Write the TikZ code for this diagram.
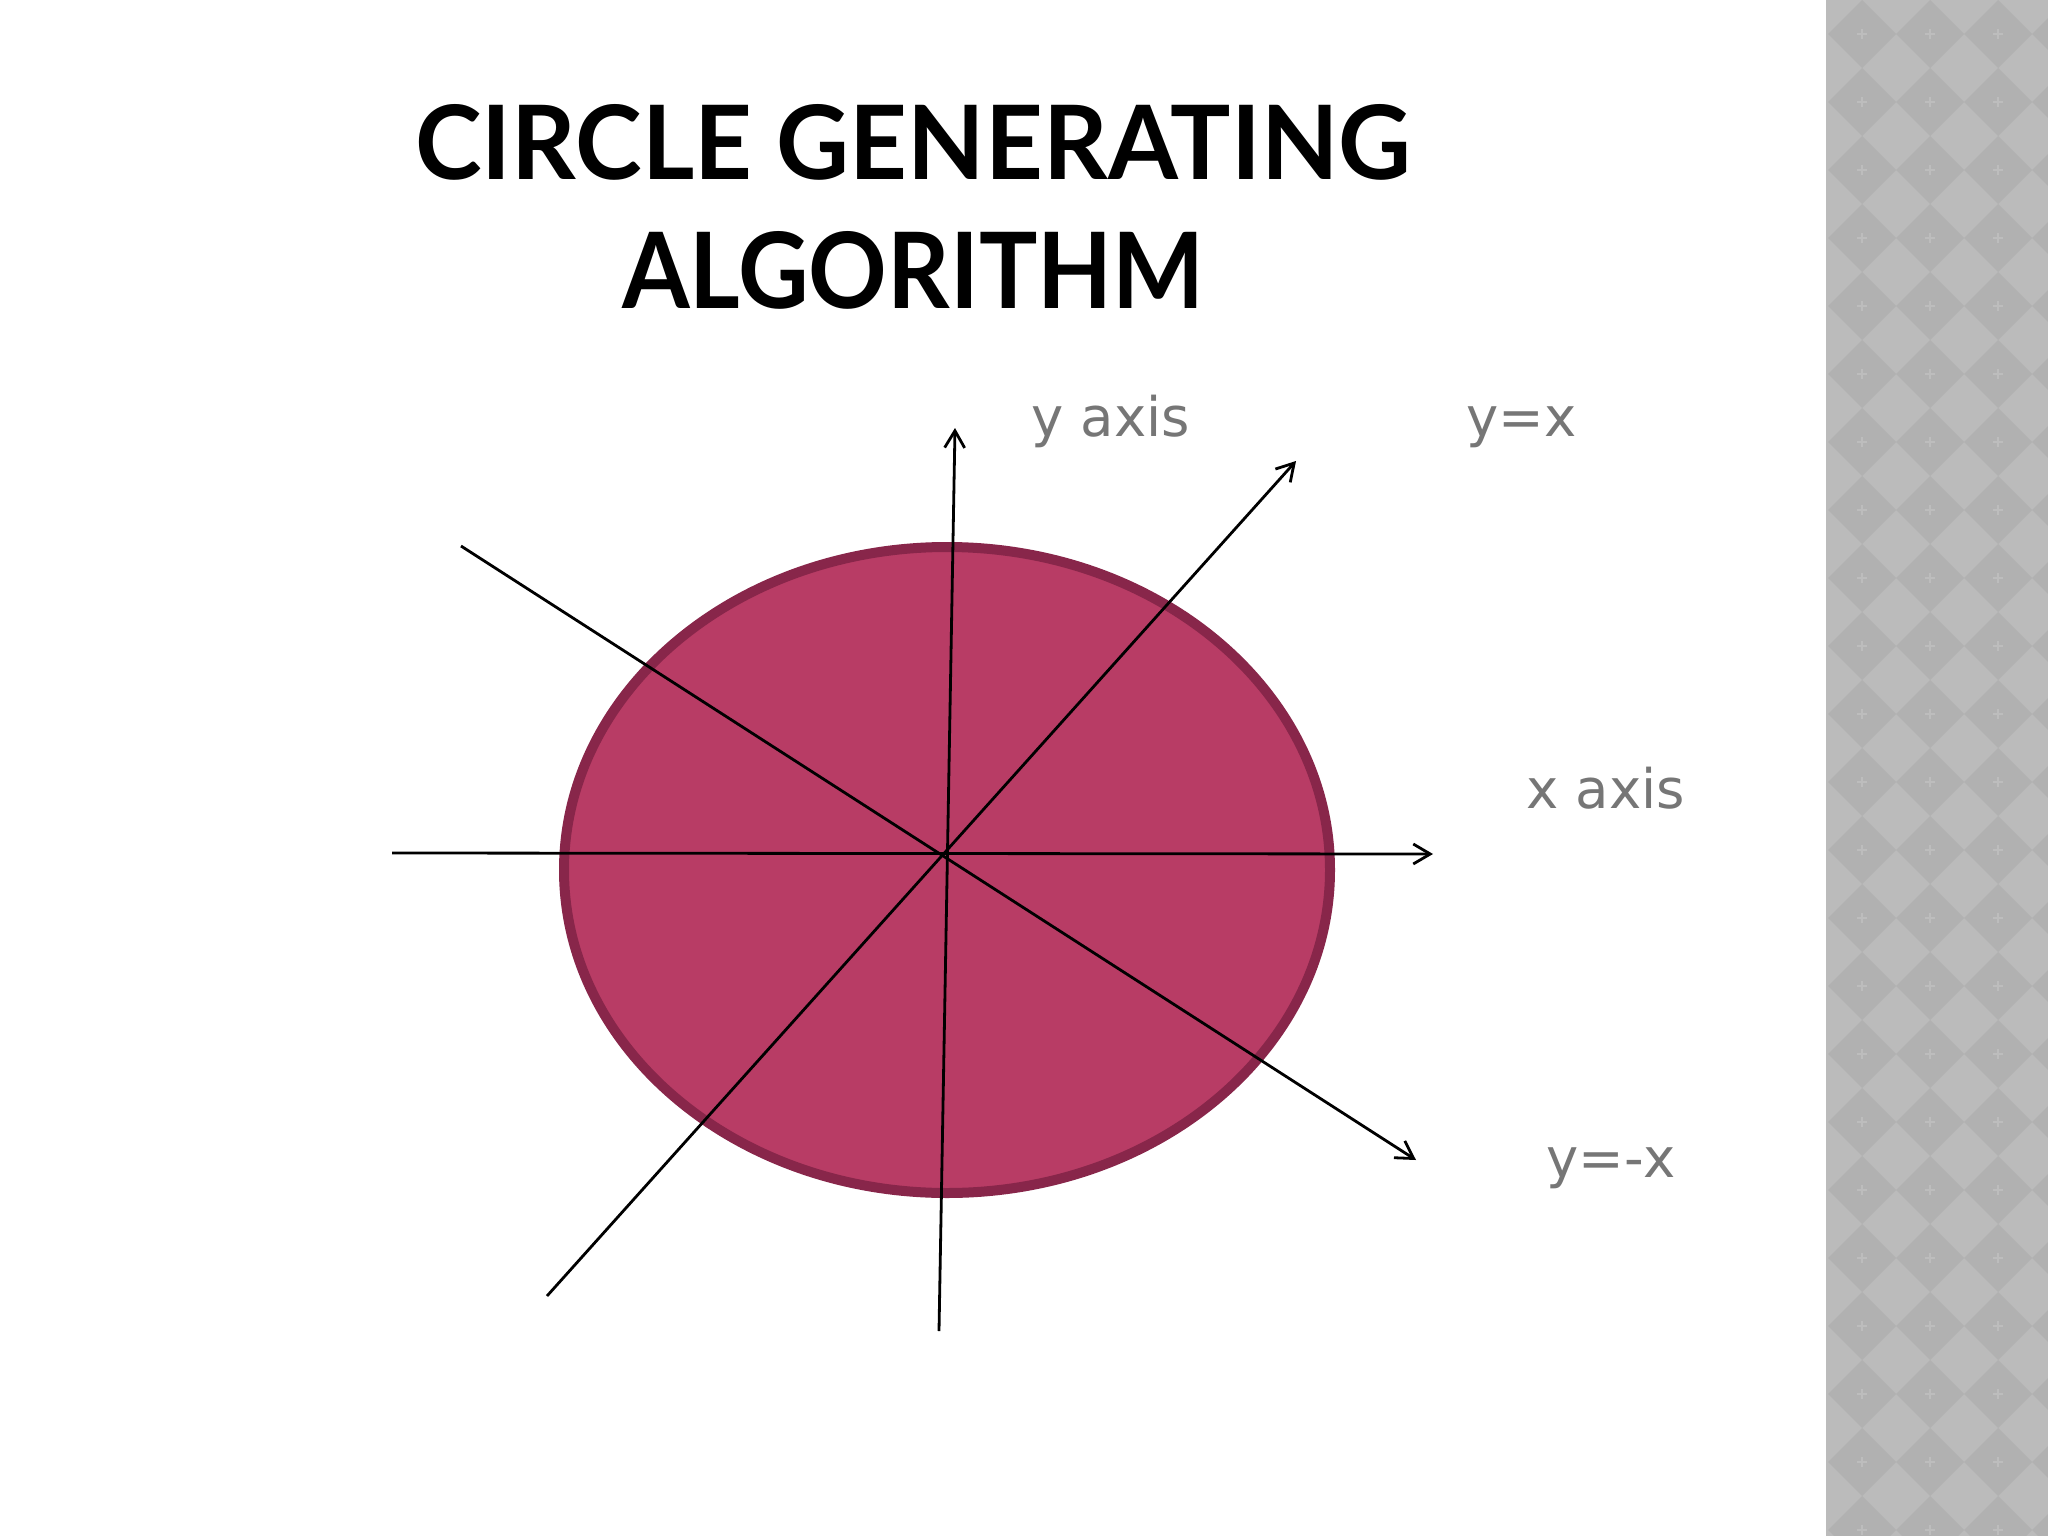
\documentclass[tikz,border=0pt]{standalone}
\usepackage{fontspec}
\setmainfont{DejaVu Sans}
\newfontfamily\titlefont{Lato}
\usetikzlibrary{arrows.meta}
\definecolor{labelgray}{RGB}{118,118,118}
\definecolor{discfill}{RGB}{184,60,101}
\definecolor{discrim}{RGB}{136,38,74}
\definecolor{stripbase}{RGB}{187,187,187}
\definecolor{stripdark}{RGB}{177,177,177}
\definecolor{stripspark}{RGB}{189,189,189}
\begin{document}
\begin{tikzpicture}[x=1pt,y=-1pt,
  axisline/.style={line width=2.8pt, black},
  axisarrow/.style={axisline, -{Straight Barb[length=17pt,width=20pt,line width=2.8pt]}},
  lbl/.style={text=labelgray, font=\fontsize{54.5}{60}\selectfont, inner sep=0pt, anchor=base west},
  ttl/.style={inner sep=0pt, anchor=base west}]
\useasboundingbox (0,0) rectangle (2048,1536);
\fill[white] (0,0) rectangle (2048,1536);
% patterned strip
\begin{scope}
\clip (1826,0) rectangle (2048,1536);
\fill[stripbase] (1826,0) rectangle (2048,1536);
\foreach \i in {0,...,3} \foreach \j in {0,...,23} {
  \fill[stripdark] ({1862+68*\i},{68*\j}) -- ++(34,34) -- ++(-34,34) -- ++(-34,-34) -- cycle;
  \draw[stripspark, line width=1.2pt] ({1862+68*\i-5},{34+68*\j}) -- ++(10,0)
        ({1862+68*\i},{34+68*\j-5}) -- ++(0,10);
}
\end{scope}
% title
\node[ttl] (title1) at (415,179) {\resizebox{996pt}{75pt}{\titlefont\bfseries CIRCLE GENERATING}};
\node[ttl] (title2) at (622,308) {\resizebox{582pt}{77pt}{\titlefont\bfseries ALGORITHM}};
% disc
\coordinate (C) at (947,870);
\draw[discrim, fill=discfill, line width=10pt] (C) ellipse [x radius=383, y radius=323];
% axes
\coordinate (O) at (945,853);
\coordinate (xl) at (392,853);
\coordinate (xr) at (1433,854);
\coordinate (yb) at (939,1331);
\coordinate (yt) at (955,428);
\coordinate (pb) at (547,1296);
\coordinate (pt) at (1296,461);
\coordinate (ml) at (461,546);
\coordinate (mr) at (1416,1160);
\draw[axisarrow] (xl) -- (xr);
\draw[axisarrow] (yb) -- (yt);
\draw[axisarrow] (pb) -- (pt);
\draw[axisarrow] (ml) -- (mr);
% labels
\node[lbl] (ylabel) at (1031,436) {y axis};
\node[lbl] (yxlabel) at (1466,436) {y=x};
\node[lbl] (xlabel) at (1526,808) {x axis};
\node[lbl] (ymxlabel) at (1546,1177) {y=-x};
\end{tikzpicture}
\end{document}
